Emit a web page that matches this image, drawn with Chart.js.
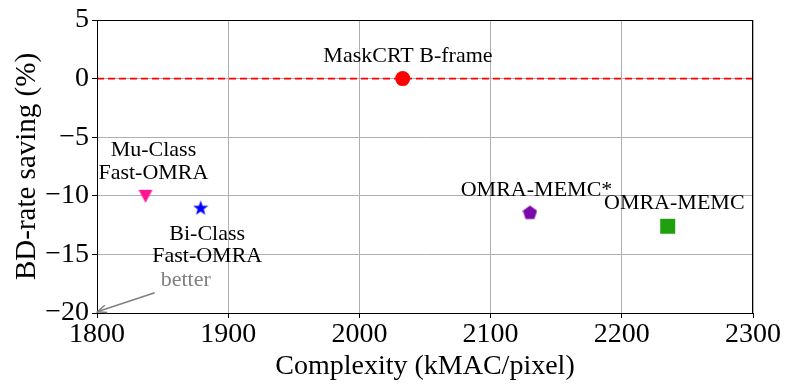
<!DOCTYPE html>
<html><head><meta charset="utf-8">
<script src="https://cdn.jsdelivr.net/npm/chart.js@4.4.1/dist/chart.umd.min.js"></script>
<style>html,body{margin:0;padding:0;background:#fff}#wrap{width:790px;height:390px}</style>
</head><body><div id="wrap"><canvas id="c" width="790" height="390"></canvas></div>
<script>
// ---- data ----
const methods = ['MaskCRT B-frame','Mu-Class Fast-OMRA','Bi-Class Fast-OMRA','OMRA-MEMC*','OMRA-MEMC'];
const complexity = [2033, 1837, 1879, 2130, 2235];
const bdRate = [0, -10, -11, -11.4, -12.6];
const xTicks = [1800, 1900, 2000, 2100, 2200, 2300];
const yTicks = [-20, -15, -10, -5, 0, 5];
const baselineY = 0;
// annotation texts (lines) and anchors in data units
const noteLines = [['MaskCRT B-frame'], ['Mu-Class','Fast-OMRA'], ['Bi-Class','Fast-OMRA'], ['OMRA-MEMC*'], ['OMRA-MEMC'], ['better']];
const noteX = [2037, 1843, 1884, 2135, 2240, 1867.6];
const noteY = [[1.9], [-6.09,-8.05], [-13.26,-15.14], [-9.56], [-10.64], [-17.24]];
const arrowFrom = [1844, -18.27];
const arrowTo = [1800.2, -19.9];

const FONT = '"Liberation Serif", "Times New Roman", serif';

function makeMarker(kind, color, size){
  const c = document.createElement('canvas');
  c.width = size; c.height = size;
  const g = c.getContext('2d');
  g.fillStyle = color;
  const cx = size/2, cy = size/2;
  g.beginPath();
  if (kind === 'star'){
    const R = size/2, r = R*0.4;
    for (let i=0;i<10;i++){
      const rad = i%2===0 ? R : r;
      const a = -Math.PI/2 + i*Math.PI/5;
      const px = cx + rad*Math.cos(a), py = cy + rad*Math.sin(a) + size*0.05;
      i===0 ? g.moveTo(px,py) : g.lineTo(px,py);
    }
  } else if (kind === 'pentagon'){
    const R = size/2;
    for (let i=0;i<5;i++){
      const a = -Math.PI/2 + i*2*Math.PI/5;
      const px = cx + R*Math.cos(a), py = cy + R*Math.sin(a) + size*0.05;
      i===0 ? g.moveTo(px,py) : g.lineTo(px,py);
    }
  } else if (kind === 'tridown'){
    g.moveTo(1, 2); g.lineTo(size-1, 2); g.lineTo(cx, size-1);
  }
  g.closePath(); g.fill();
  return c;
}

const colors = ['#ff0000', '#ff1493', '#0000ff', '#7a0aa8', '#21a00f'];
const styles = ['circle', makeMarker('tridown', colors[1], 16), makeMarker('star', colors[2], 16), makeMarker('pentagon', colors[3], 15), 'rect'];
const radii = [7.5, 8, 8, 7, 10.6];

const datasets = methods.map((m, i) => ({
  label: m,
  data: [{x: complexity[i], y: bdRate[i]}],
  pointStyle: styles[i],
  pointRadius: radii[i],
  pointHoverRadius: radii[i],
  backgroundColor: colors[i],
  borderColor: colors[i],
  borderWidth: 0,
  showLine: false,
  order: 1
}));
datasets.push({
  label: 'baseline',
  data: [{x: xTicks[0], y: baselineY}, {x: xTicks[xTicks.length-1], y: baselineY}],
  showLine: true,
  borderColor: '#ff0000',
  borderWidth: 1.6,
  borderDash: [7, 4],
  pointRadius: 0,
  order: 2
});

const notesPlugin = {
  id: 'notes',
  afterDatasetsDraw(chart){
    const {ctx, scales:{x, y}, chartArea:a} = chart;
    ctx.save();
    ctx.strokeStyle = '#000'; ctx.lineWidth = 1;
    ctx.strokeRect(Math.round(a.left)+0.5, Math.round(a.top)+0.5, Math.round(a.right-a.left)-1, Math.round(a.bottom-a.top));
    ctx.textAlign = 'center'; ctx.textBaseline = 'middle';
    ctx.font = '22px ' + FONT;
    noteLines.forEach((lines, i) => {
      ctx.fillStyle = i === 5 ? '#808080' : '#000';
      lines.forEach((t, j) => ctx.fillText(t, x.getPixelForValue(noteX[i]), y.getPixelForValue(noteY[i][j])));
    });
    const x0 = x.getPixelForValue(arrowFrom[0]), y0 = y.getPixelForValue(arrowFrom[1]);
    const x1 = x.getPixelForValue(arrowTo[0]), y1 = y.getPixelForValue(arrowTo[1]);
    ctx.strokeStyle = '#808080'; ctx.lineWidth = 1.5;
    ctx.beginPath(); ctx.moveTo(x0, y0); ctx.lineTo(x1, y1); ctx.stroke();
    const ang = Math.atan2(y1-y0, x1-x0), hl = 10;
    ctx.beginPath();
    ctx.moveTo(x1 - hl*Math.cos(ang-0.4), y1 - hl*Math.sin(ang-0.4));
    ctx.lineTo(x1, y1);
    ctx.lineTo(x1 - hl*Math.cos(ang+0.4), y1 - hl*Math.sin(ang+0.4));
    ctx.stroke();
    ctx.restore();
  }
};

new Chart(document.getElementById('c'), {
  type: 'scatter',
  data: { datasets },
  options: {
    responsive: false,
    animation: false,
    devicePixelRatio: 1,
    layout: { padding: { top: 20, right: 37, left: 0, bottom: 0 } },
    plugins: { legend: { display: false }, tooltip: { enabled: false } },
    scales: {
      x: {
        type: 'linear', min: 1800, max: 2300,
        afterBuildTicks: s => { s.ticks = xTicks.map(v => ({value: v})); },
        afterFit: s => { s.height = 77; },
        ticks: { color: '#000', font: { family: FONT, size: 28 }, padding: 0, maxRotation: 0, callback: v => String(v) },
        grid: { color: '#b0b0b0', lineWidth: 1, tickLength: 5, tickColor: '#000' },
        border: { color: '#000', width: 1 },
        title: { display: true, text: 'Complexity (kMAC/pixel)', color: '#000', font: { family: FONT, size: 28 }, padding: { top: 0, bottom: 7 } }
      },
      y: {
        type: 'linear', min: -20, max: 5,
        afterBuildTicks: s => { s.ticks = yTicks.map(v => ({value: v})); },
        afterFit: s => { s.width = 97; },
        ticks: { color: '#000', font: { family: FONT, size: 28 }, padding: 3, callback: v => String(v).replace('-', '\u2212') },
        grid: { color: '#b0b0b0', lineWidth: 1, tickLength: 5, tickColor: '#000' },
        border: { color: '#000', width: 1 },
        title: { display: true, text: 'BD-rate saving (%)', color: '#000', font: { family: FONT, size: 29 }, padding: { top: 10, bottom: 0 } }
      }
    }
  },
  plugins: [notesPlugin]
});
</script></body></html>
